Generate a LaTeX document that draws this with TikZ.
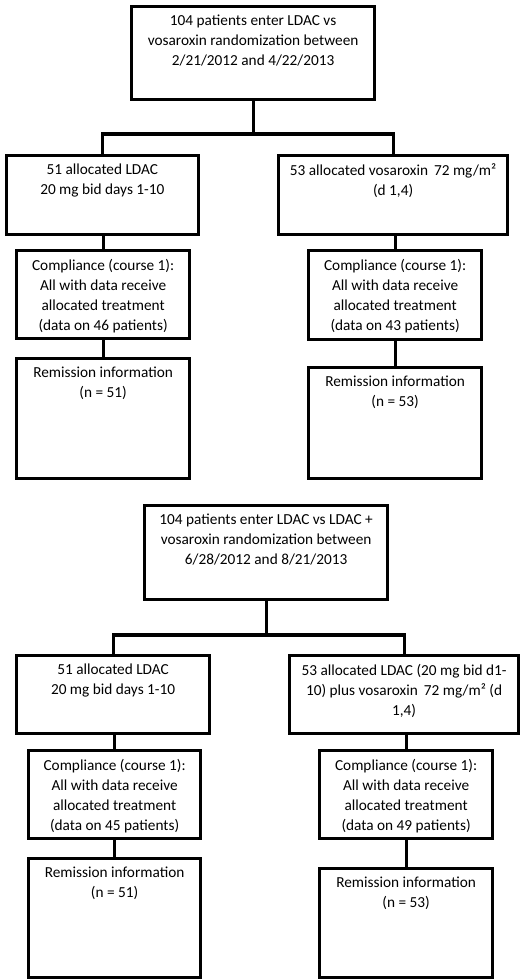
\documentclass[tikz,border=0pt]{standalone}
\usepackage{fontspec}
\setmainfont{Carlito}
\usepackage{tikz}

% text block pinned to the top of a box of fixed size
\newcommand{\boxtext}[3]{\parbox[c][#2pt][t]{#1pt}{\centering\vspace*{8.5pt}#3}}

\begin{document}
\begin{tikzpicture}[x=1pt, y=-1pt,
  flowbox/.style={draw, line width=3.2pt, inner sep=0pt, anchor=north west, font=\fontsize{15.3}{20}\selectfont},
  link/.style={line width=3.2pt}]
  \useasboundingbox (0,0) rectangle (520,980);

  % First randomization
  \node[flowbox] (rand1) at (130,4.5) {\boxtext{243}{93.5}{104 patients enter LDAC vs\\vosaroxin randomization between\\2/21/2012 and 4/22/2013}};
  \node[flowbox] (arm1a) at (4.5,154) {\boxtext{192.5}{79}{51 allocated LDAC\\20 mg bid days 1-10}};
  \node[flowbox] (arm1b) at (277,154) {\boxtext{229}{79}{53 allocated vosaroxin\, 72 mg/m²\\(d 1,4)}};
  \node[flowbox] (comp1a) at (15,249) {\boxtext{173}{88}{Compliance (course 1):\\All with data receive\\allocated treatment\\(data on 46 patients)}};
  \node[flowbox] (comp1b) at (307,249) {\boxtext{173}{89}{Compliance (course 1):\\All with data receive\\allocated treatment\\(data on 43 patients)}};
  \node[flowbox] (rem1a) at (15,357) {\boxtext{173}{120}{Remission information\\(n = 51)}};
  \node[flowbox] (rem1b) at (307,366) {\boxtext{173}{111}{Remission information\\(n = 53)}};

  % Branching of first randomization
  \coordinate (split1) at (rand1.south |- 0,134);
  \draw[link] (rand1.south) -- (split1);
  \draw[link] (arm1a.north) |- (split1) -| (arm1b.north);
  \draw[link] (comp1a.north |- arm1a.south) -- (comp1a.north);
  \draw[link] (comp1b.north |- arm1b.south) -- (comp1b.north);
  \draw[link] (comp1a.south) -- (rem1a.north);
  \draw[link] (comp1b.south) -- (rem1b.north);

  % Second randomization
  \node[flowbox] (rand2) at (143,504) {\boxtext{243}{94}{104 patients enter LDAC vs LDAC +\\vosaroxin randomization between\\6/28/2012 and 8/21/2013}};
  \node[flowbox] (arm2a) at (15,654) {\boxtext{193}{78}{51 allocated LDAC\\20 mg bid days 1-10}};
  \node[flowbox] (arm2b) at (288,654) {\boxtext{229}{78}{53 allocated LDAC (20 mg bid d1-\\10) plus vosaroxin\, 72 mg/m² (d\\1,4)}};
  \node[flowbox] (comp2a) at (27,749) {\boxtext{172}{88}{Compliance (course 1):\\All with data receive\\allocated treatment\\(data on 45 patients)}};
  \node[flowbox] (comp2b) at (318,749) {\boxtext{173}{88}{Compliance (course 1):\\All with data receive\\allocated treatment\\(data on 49 patients)}};
  \node[flowbox] (rem2a) at (27,857) {\boxtext{172}{119}{Remission information\\(n = 51)}};
  \node[flowbox] (rem2b) at (318,867) {\boxtext{173}{109}{Remission information\\(n = 53)}};

  % Branching of second randomization
  \coordinate (split2) at (rand2.south |- 0,635);
  \draw[link] (rand2.south) -- (split2);
  \draw[link] (arm2a.north) |- (split2) -| (arm2b.north);
  \draw[link] (comp2a.north |- arm2a.south) -- (comp2a.north);
  \draw[link] (comp2b.north |- arm2b.south) -- (comp2b.north);
  \draw[link] (comp2a.south) -- (rem2a.north);
  \draw[link] (comp2b.south) -- (rem2b.north);
\end{tikzpicture}
\end{document}
